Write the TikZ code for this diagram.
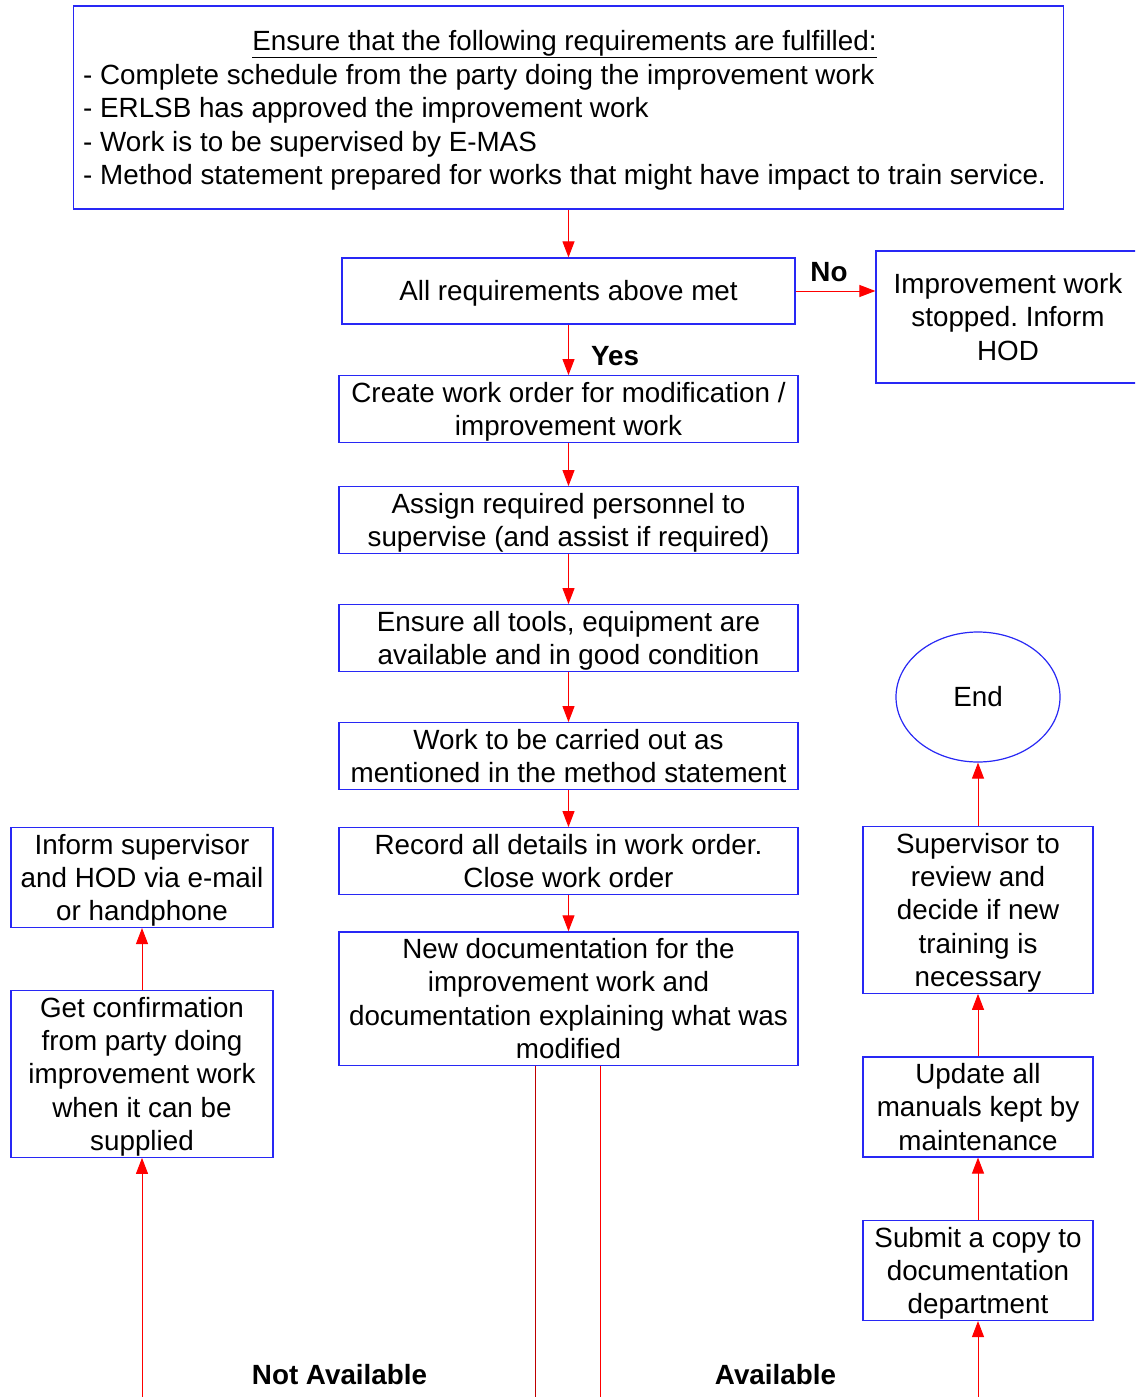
\documentclass[tikz,border=0pt]{standalone}
\usepackage{fontspec}
\setmainfont{Liberation Sans}
\usetikzlibrary{arrows.meta,shapes.geometric}
\definecolor{boxblue}{RGB}{40,40,245}
\newcommand{\ls}{\rule[-6.7pt]{0pt}{33.3pt}}
\renewcommand{\arraystretch}{0.5}
\frenchspacing
\begin{document}
\begin{tikzpicture}[x=1pt,y=-1pt,
  box/.style={draw=boxblue, line width=1.2pt, rectangle, inner sep=0pt, align=center,
    font=\fontsize{27.8}{33.3}\selectfont},
  flow/.style={draw=red, line width=1pt, -{Triangle[length=16pt,width=12pt]}},
  plain/.style={draw=red, line width=1pt},
  lbl/.style={font=\fontsize{27.8}{33.3}\selectfont\bfseries, inner sep=0pt, text height=20pt, text depth=0pt}]
\clip (0,0) rectangle (1135,1397);
\fill[white] (0,0) rectangle (1135,1397);
% top requirements box
\node[box, minimum width=990, minimum height=203] (top) at (568.5,107.5)
 {\begin{tabular}{@{}l@{}}
  \multicolumn{1}{@{}c@{}}{\ls\underline{Ensure that the following requirements are fulfilled:}}\\
  \ls - Complete schedule from the party doing the improvement work\\
  \ls - ERLSB has approved the improvement work\\
  \ls - Work is to be supervised by E-MAS\\
  \ls - Method statement prepared for works that might have impact to train service.
 \end{tabular}\hspace*{8pt}};
% centre column
\node[box, minimum width=453, minimum height=66] (req) at (568.5,291) {\ls All requirements above met};
\node[box, minimum width=264, minimum height=132] (stop) at (1008,317)
 {\ls Improvement work\\\ls stopped. Inform\\\ls HOD};
\node[box, minimum width=459, minimum height=66] (create) at (568.5,409)
 {\ls Create work order for modification /\\\ls improvement work};
\node[box, minimum width=459, minimum height=66] (assign) at (568.5,520)
 {\ls Assign required personnel to\\\ls supervise (and assist if required)};
\node[box, minimum width=459, minimum height=66] (tools) at (568.5,638)
 {\ls Ensure all tools, equipment are\\\ls available and in good condition};
\node[box, minimum width=459, minimum height=66] (carry) at (568.5,756)
 {\ls Work to be carried out as\\\ls mentioned in the method statement};
\node[box, minimum width=459, minimum height=66] (record) at (568.5,861)
 {\ls Record all details in work order.\\\ls Close work order};
\node[box, minimum width=459, minimum height=131] (newdoc) at (568.5,998.5)
 {\ls New documentation for the\\\ls improvement work and\\\ls documentation explaining what was\\\ls modified};
% left column
\node[box, minimum width=262, minimum height=99] (inform) at (142,877.5)
 {\ls Inform supervisor\\\ls and HOD via e-mail\\\ls or handphone};
\node[box, minimum width=262, minimum height=164] (confirm) at (142,1074)
 {\ls Get confirmation\\\ls from party doing\\\ls improvement work\\\ls when it can be\\\ls supplied};
% right column
\node[ellipse, draw=boxblue, line width=1.2pt, inner sep=0pt, minimum width=164, minimum height=130,
  font=\fontsize{27.8}{33.3}\selectfont] (end) at (978,697) {\ls End};
\node[box, minimum width=230, minimum height=164] (superv) at (978,910)
 {\ls Supervisor to\\\ls review and\\\ls decide if new\\\ls training is\\\ls necessary};
\node[box, minimum width=230, minimum height=98] (update) at (978,1107)
 {\ls Update all\\\ls manuals kept by\\\ls maintenance};
\node[box, minimum width=230, minimum height=99] (submit) at (978,1270.5)
 {\ls Submit a copy to\\\ls documentation\\\ls department};
% labels
\node[lbl] (no) at (829,271) {No};
\node[lbl] (yes) at (615,355) {Yes};
\node[lbl] (notav) at (339.5,1374) {Not Available};
\node[lbl] (av) at (775.5,1374) {Available};
% free ends
\coordinate (bl) at (142,1397);
\coordinate (br) at (978,1397);
\coordinate (dl) at (535.5,1397);
\coordinate (dr) at (600.5,1397);
% connectors
\draw[flow] (top.south) -- (req.north);
\draw[flow] (req.east) -- (stop.west |- req.east);
\draw[flow] (req.south) -- (create.north);
\draw[flow] (create.south) -- (assign.north);
\draw[flow] (assign.south) -- (tools.north);
\draw[flow] (tools.south) -- (carry.north);
\draw[flow] (carry.south) -- (record.north);
\draw[flow] (record.south) -- (newdoc.north);
\draw[draw=red!75!black, line width=0.7pt] (newdoc.south -| dl) -- (dl);
\draw[plain] (newdoc.south -| dr) -- (dr);
\draw[flow] (bl) -- (confirm.south);
\draw[flow] (confirm.north) -- (inform.south);
\draw[flow] (br) -- (submit.south);
\draw[flow] (submit.north) -- (update.south);
\draw[flow] (update.north) -- (superv.south);
\draw[flow] (superv.north) -- (end.south);
\end{tikzpicture}
\end{document}
